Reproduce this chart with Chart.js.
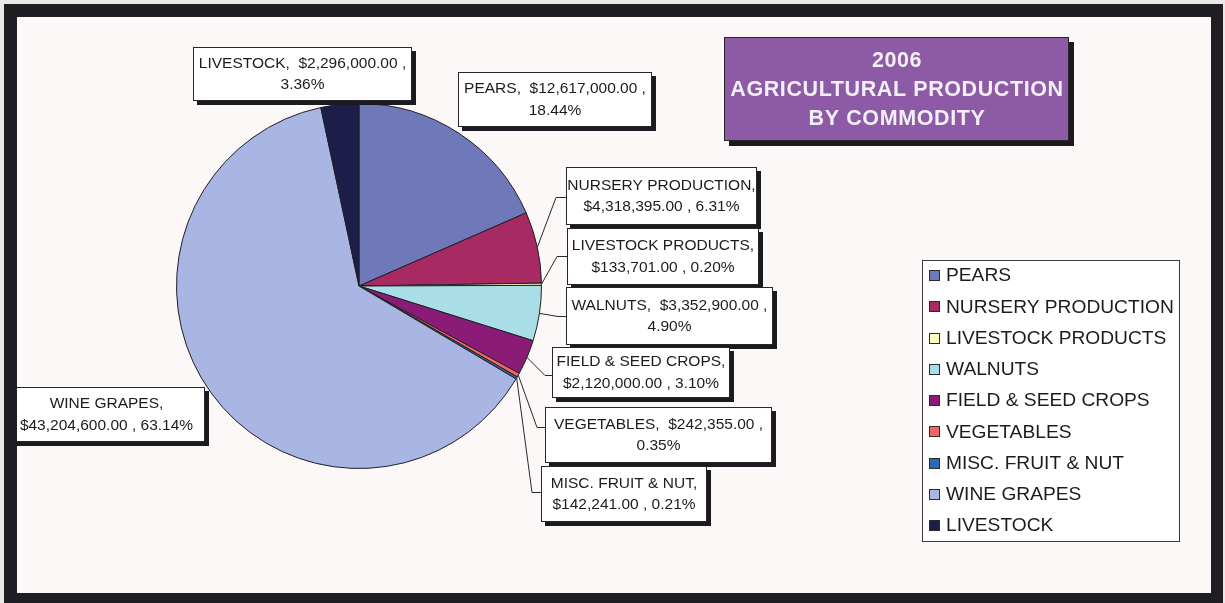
<!DOCTYPE html>
<html>
<head>
<meta charset="utf-8">
<title>2006 Agricultural Production by Commodity</title>
<script src="https://cdn.jsdelivr.net/npm/chart.js@4.4.1/dist/chart.umd.min.js"></script>
<style>
  html, body { margin: 0; padding: 0; background: #ece8e8; }
  #wrap { width: 1225px; height: 603px; position: relative; }
  canvas { display: block; }
</style>
</head>
<body>
<div id="wrap"><canvas id="chart" width="1225" height="603"></canvas></div>
<script>
// Commodity values, 2006 (dollars)
const categories = [
  'PEARS', 'NURSERY PRODUCTION', 'LIVESTOCK PRODUCTS', 'WALNUTS',
  'FIELD & SEED CROPS', 'VEGETABLES', 'MISC. FRUIT & NUT', 'WINE GRAPES', 'LIVESTOCK'
];
const values = [
  12617000, 4318395, 133701, 3352900,
  2120000, 242355, 142241, 43204600, 2296000
];
const sliceColors = [
  '#6f78b8', '#a82a62', '#ffffc4', '#a9dde8',
  '#8a1c78', '#f86464', '#2f68b2', '#a9b5e2', '#1d1d4a'
];
const titleLines = ['2006', 'AGRICULTURAL PRODUCTION', 'BY COMMODITY'];

// Data-label boxes: where each box sits, where its text wraps, and the elbow of its leader line
const labelLayout = [
  { x: 458, y: 72,  w: 194, h: 55, wrap: 'value' },
  { x: 566, y: 167, w: 191, h: 58, wrap: 'name', elbow: [556, 197] },
  { x: 567, y: 228, w: 192, h: 57, wrap: 'name', elbow: [557, 256] },
  { x: 566, y: 287, w: 207, h: 58, wrap: 'value', elbow: [558, 316] },
  { x: 552, y: 347, w: 178, h: 51, wrap: 'name', elbow: [545, 375] },
  { x: 545, y: 407, w: 227, h: 56, wrap: 'value', elbow: [537, 427] },
  { x: 541, y: 466, w: 166, h: 56, wrap: 'name', elbow: [532, 492] },
  { x: 8,   y: 387, w: 197, h: 55, wrap: 'name' },
  { x: 193, y: 47,  w: 219, h: 54, wrap: 'value' }
];

const FONT = '"Liberation Sans", Arial, Helvetica, sans-serif';
const total = values.reduce((a, b) => a + b, 0);

function money(v) {
  return '$' + v.toLocaleString('en-US', { minimumFractionDigits: 2, maximumFractionDigits: 2 });
}
function labelLines(i) {
  const name = categories[i];
  const pct = (values[i] / total * 100).toFixed(2) + '%';
  const val = money(values[i]);
  if (labelLayout[i].wrap === 'value') return [name + ',  ' + val + ' ,', pct];
  return [name + ',', val + ' , ' + pct];
}

function shadowBox(ctx, x, y, w, h, fill, off) {
  ctx.fillStyle = '#1b1b1f';
  ctx.fillRect(x + off, y + off, w, h);
  ctx.fillStyle = fill;
  ctx.fillRect(x, y, w, h);
  ctx.strokeStyle = '#26262a';
  ctx.lineWidth = 1;
  ctx.strokeRect(x + 0.5, y + 0.5, w - 1, h - 1);
}

// Page background behind the pie
const backdrop = {
  id: 'backdrop',
  beforeDraw(chart) {
    const ctx = chart.ctx;
    ctx.save();
    ctx.fillStyle = '#fcf8f8';
    ctx.fillRect(0, 0, chart.width, chart.height);
    ctx.restore();
  }
};

// Leader lines, data labels, title panel, legend and the outer frame
const decorations = {
  id: 'decorations',
  afterDatasetsDraw(chart) {
    const ctx = chart.ctx;
    const meta = chart.getDatasetMeta(0);
    ctx.save();

    // leader lines from each slice edge to its box
    ctx.strokeStyle = '#2a2a2a';
    ctx.lineWidth = 1;
    meta.data.forEach((arc, i) => {
      const lay = labelLayout[i];
      if (!lay.elbow) return;
      const p = arc.getProps(['x', 'y', 'startAngle', 'endAngle', 'outerRadius'], true);
      const mid = (p.startAngle + p.endAngle) / 2;
      const sx = p.x + Math.cos(mid) * p.outerRadius;
      const sy = p.y + Math.sin(mid) * p.outerRadius;
      ctx.beginPath();
      ctx.moveTo(sx, sy);
      ctx.lineTo(lay.elbow[0], lay.elbow[1] + 0.5);
      ctx.lineTo(lay.x, lay.elbow[1] + 0.5);
      ctx.stroke();
    });

    // data label boxes
    ctx.font = '15.5px ' + FONT;
    ctx.textAlign = 'center';
    ctx.textBaseline = 'middle';
    labelLayout.forEach((lay, i) => {
      shadowBox(ctx, lay.x, lay.y, lay.w, lay.h, '#ffffff', 4);
      const lines = labelLines(i);
      const cx = lay.x + lay.w / 2;
      const cy = lay.y + lay.h / 2;
      ctx.fillStyle = '#1c1c1c';
      lines.forEach((t, k) => {
        ctx.fillText(t, cx, cy + (k - (lines.length - 1) / 2) * 21.5);
      });
    });

    // title panel
    shadowBox(ctx, 724, 37, 345, 104, '#8d5aa6', 5);
    ctx.fillStyle = '#f3eff7';
    ctx.font = 'bold 21.5px ' + FONT;
    ctx.letterSpacing = '0.6px';
    titleLines.forEach((t, k) => {
      ctx.fillText(t, 897, 61 + k * 29);
    });
    ctx.letterSpacing = '0px';

    // legend
    ctx.fillStyle = '#ffffff';
    ctx.fillRect(922, 260, 258, 282);
    ctx.strokeStyle = '#3a3a3a';
    ctx.strokeRect(922.5, 260.5, 257, 281);
    ctx.font = '19.2px ' + FONT;
    ctx.textAlign = 'left';
    categories.forEach((c, i) => {
      const cy = 275 + i * 31.25;
      ctx.fillStyle = sliceColors[i];
      ctx.fillRect(929, Math.round(cy - 5), 11, 11);
      ctx.strokeStyle = '#2a2a2a';
      ctx.strokeRect(929.5, Math.round(cy - 5) + 0.5, 10, 10);
      ctx.fillStyle = '#1c1c1c';
      ctx.fillText(c, 946, cy + 1);
    });

    // outer frame
    ctx.fillStyle = '#ece8e8';
    ctx.fillRect(0, 0, chart.width, 4);
    ctx.fillRect(0, 0, 4, chart.height);
    ctx.fillRect(1223, 0, 2, chart.height);
    ctx.fillStyle = '#1f1f23';
    ctx.fillRect(4, 4, 1219, 13);
    ctx.fillRect(4, 4, 13, 599);
    ctx.fillRect(1211, 4, 12, 599);
    ctx.fillRect(4, 593, 1219, 10);
    ctx.restore();
  }
};

new Chart(document.getElementById('chart'), {
  type: 'pie',
  data: {
    labels: categories,
    datasets: [{
      data: values,
      backgroundColor: sliceColors,
      borderColor: '#202024',
      borderWidth: 1
    }]
  },
  options: {
    responsive: false,
    animation: false,
    layout: { padding: { left: 176, top: 103, right: 683, bottom: 134 } },
    plugins: {
      legend: { display: false },
      tooltip: { enabled: false }
    }
  },
  plugins: [backdrop, decorations]
});
</script>
</body>
</html>
